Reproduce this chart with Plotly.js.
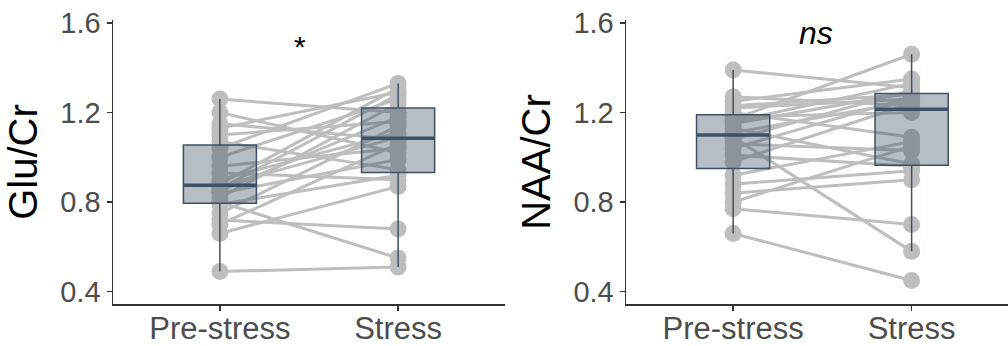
<!DOCTYPE html>
<html>
<head>
<meta charset="utf-8">
<script src="https://cdn.plot.ly/plotly-3.0.1.min.js"></script>
<style>html,body{margin:0;padding:0;background:#fff;}#chart{width:1008px;height:346px;}</style>
</head>
<body>
<div id="chart"></div>
<script>
// ---- data ----
const categories = ['Pre-stress', 'Stress'];

// Glu/Cr, paired per subject
const gluPre    = [0.49, 0.66, 0.70, 0.72, 0.75, 0.79, 0.80, 0.82, 0.84, 0.85, 0.86, 0.87,
                   0.88, 0.90, 0.93, 0.96, 1.00, 1.04, 1.07, 1.10, 1.13, 1.15, 1.20, 1.26];
const gluStress = [0.51, 0.87, 1.06, 0.68, 1.14, 0.92, 0.55, 1.24, 0.99, 1.18, 1.28, 1.09,
                   1.31, 1.11, 0.90, 1.04, 1.26, 1.33, 0.945, 1.16, 1.29, 1.08, 1.02, 1.20];

// NAA/Cr, paired per subject
const naaPre    = [0.66, 0.77, 0.80, 0.84, 0.88, 0.92, 0.98, 1.01, 1.04, 1.06, 1.08, 1.09,
                   1.11, 1.13, 1.15, 1.16, 1.17, 1.18, 1.20, 1.22, 1.23, 1.25, 1.27, 1.39];
const naaStress = [0.45, 0.70, 1.05, 0.90, 0.94, 1.07, 1.24, 0.96, 1.27, 1.03, 1.30, 0.58,
                   1.25, 0.97, 1.29, 1.33, 1.46, 1.20, 1.09, 1.26, 1.28, 1.35, 1.23, 1.31];

const yTickVals = [0.4, 0.8, 1.2, 1.6];
const yTickText = ['0.4', '0.8', '1.2', '1.6'];
const yTitles = ['Glu/Cr', 'NAA/Cr'];
const sigLabels = ['*', '<i>ns</i>'];

// ---- styles ----
const FONT = 'Liberation Sans, Arial, sans-serif';
const pointGray = '#bebebe';
const boxLine = '#3e5166';
const boxFill = 'rgba(52,73,94,0.36)';
const BOXW = 0.41;

function median(a) {
  const s = a.slice().sort((p, q) => p - q);
  const n = s.length;
  return n % 2 ? s[(n - 1) / 2] : (s[n / 2 - 1] + s[n / 2]) / 2;
}

function pairedTrace(pre, post, xa, ya) {
  const x = [], y = [];
  for (let i = 0; i < pre.length; i++) {
    x.push(0, 1, null);
    y.push(pre[i], post[i], null);
  }
  return {
    type: 'scatter', mode: 'lines+markers', x: x, y: y,
    xaxis: xa, yaxis: ya, connectgaps: false,
    line: {color: pointGray, width: 3},
    marker: {color: pointGray, size: 17},
    hoverinfo: 'skip', showlegend: false
  };
}

function boxTrace(vals, pos, xa, ya) {
  return {
    type: 'box', y: vals, x0: pos, width: BOXW,
    xaxis: xa, yaxis: ya,
    boxpoints: 'outliers',
    marker: {opacity: 0, size: 1},
    line: {color: boxLine, width: 1.5},
    fillcolor: boxFill,
    whiskerwidth: 0,
    showlegend: false, hoverinfo: 'skip'
  };
}

function medianTrace(vals, pos, xa, ya) {
  const m = median(vals);
  return {
    type: 'scatter', mode: 'lines',
    x: [pos - BOXW / 2, pos + BOXW / 2], y: [m, m],
    xaxis: xa, yaxis: ya,
    line: {color: boxLine, width: 3.5},
    hoverinfo: 'skip', showlegend: false
  };
}

const data = [
  pairedTrace(gluPre, gluStress, 'x', 'y'),
  pairedTrace(naaPre, naaStress, 'x2', 'y2'),
  boxTrace(gluPre, 0, 'x3', 'y3'),
  boxTrace(gluStress, 1, 'x3', 'y3'),
  medianTrace(gluPre, 0, 'x3', 'y3'),
  medianTrace(gluStress, 1, 'x3', 'y3'),
  boxTrace(naaPre, 0, 'x4', 'y4'),
  boxTrace(naaStress, 1, 'x4', 'y4'),
  medianTrace(naaPre, 0, 'x4', 'y4'),
  medianTrace(naaStress, 1, 'x4', 'y4')
];

const YR = [0.345, 1.613];
const XR1 = [-0.6, 1.6];
const XR2 = [-0.6, 1.54];

function xAxis(domain, range) {
  return {
    domain: domain, range: range, type: 'linear',
    tickvals: [0, 1], ticktext: categories,
    showgrid: false, zeroline: false,
    showline: true, linecolor: '#333333', linewidth: 1.5,
    ticks: 'outside', ticklen: 5, tickwidth: 1.5, tickcolor: '#333333',
    tickfont: {family: FONT, size: 31, color: '#4d4d4d'},
    ticklabelstandoff: -9,
    fixedrange: true
  };
}
function yAxis(anchor, title) {
  return {
    anchor: anchor, range: YR, type: 'linear',
    tickvals: yTickVals, ticktext: yTickText,
    showgrid: false, zeroline: false,
    showline: true, linecolor: '#333333', linewidth: 1.5,
    ticks: 'outside', ticklen: 5, tickwidth: 1.5, tickcolor: '#333333',
    tickfont: {family: FONT, size: 29, color: '#4d4d4d'},
    ticklabelstandoff: 0,
    title: {text: title, font: {family: FONT, size: 40, color: '#000'}, standoff: 10},
    fixedrange: true
  };
}
function overlayX(over, range) {
  return {overlaying: over, range: range, type: 'linear', visible: false, fixedrange: true};
}
function overlayY(over, anchor) {
  return {overlaying: over, anchor: anchor, range: YR, type: 'linear', visible: false, fixedrange: true};
}

const layout = {
  width: 1008, height: 346,
  margin: {l: 113, r: 0, t: 20, b: 42},
  paper_bgcolor: '#ffffff', plot_bgcolor: 'rgba(0,0,0,0)',
  showlegend: false,
  xaxis: xAxis([0, 0.438], XR1),
  yaxis: yAxis('x', yTitles[0]),
  xaxis2: xAxis([0.5732, 1], XR2),
  yaxis2: yAxis('x2', yTitles[1]),
  xaxis3: overlayX('x', XR1),
  yaxis3: overlayY('y', 'x3'),
  xaxis4: overlayX('x2', XR2),
  yaxis4: overlayY('y2', 'x4'),
  annotations: [
    {xref: 'x', yref: 'y', x: 0.45, y: 1.495, text: sigLabels[0], showarrow: false,
     font: {family: FONT, size: 30, color: '#000'}, xanchor: 'center', yanchor: 'middle'},
    {xref: 'x2', yref: 'y2', x: 0.465, y: 1.553, text: sigLabels[1], showarrow: false,
     font: {family: FONT, size: 32, color: '#000'}, xanchor: 'center', yanchor: 'middle'}
  ]
};

Plotly.newPlot('chart', data, layout, {displayModeBar: false, staticPlot: true});
</script>
</body>
</html>
